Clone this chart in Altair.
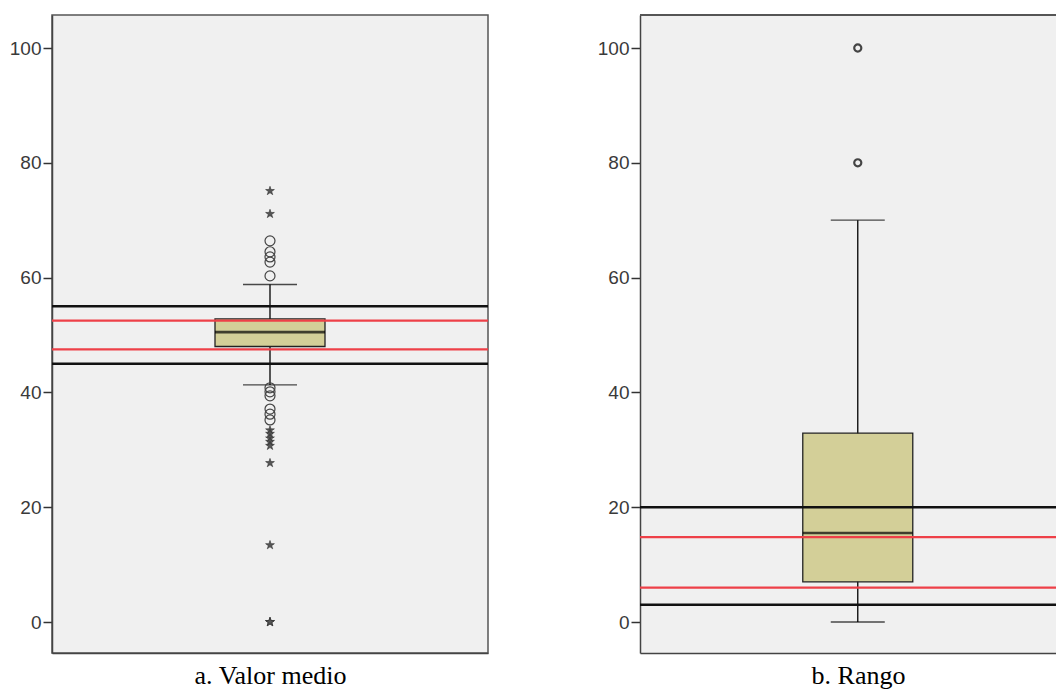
import altair as alt
import pandas as pd

# ---------------- data ----------------
panel_titles = ["a. Valor medio", "b. Rango"]
whisker_low = [41.3, 0.0]
box_q1 = [48.0, 7.0]
box_median = [50.5, 15.5]
box_q3 = [52.8, 32.9]
whisker_high = [58.8, 70.0]

black_lines_a = [55.0, 45.0]
red_lines_a = [52.5, 47.5]
black_lines_b = [20.0, 3.0]
red_lines_b = [14.8, 6.0]

circles_a = [66.4, 64.5, 63.6, 62.7, 60.3, 40.8, 40.1, 39.4, 37.1, 36.2, 35.2]
stars_a = [75.1, 71.1, 33.4, 32.8, 32.0, 31.4, 30.7, 27.7, 13.4, 0.0, 0.0, 0.0]
circles_b = [100.0, 80.0]
stars_b = []

y_ticks = [0, 20, 40, 60, 80, 100]

# ---------------- styling ----------------
Y_DOMAIN = [-5.4, 105.75]
H = 638
W_A = 436
W_B = 417
FULL_W = 436
BOX_FILL = "#d3cf98"
PANEL_BG = "#f0f0f0"
RED = "#ee4048"
STAR = ("M0,-1L0.2245,-0.309L0.951,-0.309L0.363,0.118L0.588,0.809L0,0.382"
        "L-0.588,0.809L-0.363,0.118L-0.951,-0.309L-0.2245,-0.309Z")


def make_panel(i, width, blacks, reds, circles, stars, circle_size, circle_sw, frame):
    xmax = 2.0 * width / FULL_W
    xs = alt.Scale(domain=[0, xmax], nice=False, zero=False)
    ys = alt.Scale(domain=Y_DOMAIN, nice=False, zero=False)
    x_axis = alt.Axis(
        title=panel_titles[i], labels=False, ticks=False, grid=False,
        domainColor="#444", domainWidth=1.5,
        titleFont="Liberation Serif", titleFontSize=26, titleFontWeight="normal",
        titleColor="#000", titlePadding=9, titleX=FULL_W / 2,
    )
    y_axis = alt.Axis(
        title=None, values=y_ticks, tickSize=9, labelPadding=2,
        labelFont="Liberation Sans", labelFontSize=19, labelColor="#3a3a3a",
        tickColor="#333", tickWidth=1.5, domainColor="#444", domainWidth=1.5,
        grid=False,
    )

    stats = pd.DataFrame({
        "x": [1.0],
        "low": [whisker_low[i]], "q1": [box_q1[i]], "median": [box_median[i]],
        "q3": [box_q3[i]], "high": [whisker_high[i]],
    })
    base = alt.Chart(stats)

    whisk = base.mark_rule(color="#000", strokeWidth=1.3).encode(
        x=alt.X("x:Q", scale=xs, axis=x_axis),
        y=alt.Y("low:Q", scale=ys, axis=y_axis),
        y2="high:Q",
    )
    caps_lo = base.mark_tick(orient="horizontal", size=54, thickness=1.3, color="#000").encode(
        x=alt.X("x:Q", scale=xs), y=alt.Y("low:Q", scale=ys))
    caps_hi = base.mark_tick(orient="horizontal", size=54, thickness=1.3, color="#000").encode(
        x=alt.X("x:Q", scale=xs), y=alt.Y("high:Q", scale=ys))
    box = base.mark_bar(size=110, fill=BOX_FILL, stroke="#222", strokeWidth=1.3).encode(
        x=alt.X("x:Q", scale=xs), y=alt.Y("q1:Q", scale=ys), y2="q3:Q")
    med = base.mark_tick(orient="horizontal", size=110, thickness=2.6, color="#000").encode(
        x=alt.X("x:Q", scale=xs), y=alt.Y("median:Q", scale=ys))

    blk = alt.Chart(pd.DataFrame({"v": blacks})).mark_rule(
        color="#111", strokeWidth=2.5).encode(y=alt.Y("v:Q", scale=ys))
    rd = alt.Chart(pd.DataFrame({"v": reds})).mark_rule(
        color=RED, strokeWidth=2.2).encode(y=alt.Y("v:Q", scale=ys))

    layers = [whisk, caps_lo, caps_hi, box, med, blk, rd]

    if circles:
        layers.append(
            alt.Chart(pd.DataFrame({"x": [1.0] * len(circles), "v": circles}))
            .mark_point(shape="circle", filled=False, size=circle_size,
                        stroke="#444", strokeWidth=circle_sw, opacity=1)
            .encode(x=alt.X("x:Q", scale=xs), y=alt.Y("v:Q", scale=ys))
        )
    if stars:
        layers.append(
            alt.Chart(pd.DataFrame({"x": [1.0] * len(stars), "v": stars}))
            .mark_point(shape=STAR, filled=True, size=85, fill="#555",
                        stroke="#333", strokeWidth=0.6, opacity=1)
            .encode(x=alt.X("x:Q", scale=xs), y=alt.Y("v:Q", scale=ys))
        )
    if not frame:
        layers.append(
            alt.Chart(pd.DataFrame({"v": [0]})).mark_rule(color="#555", strokeWidth=2)
            .encode(x=alt.value(0), x2=alt.value(width), y=alt.value(0))
        )

    view = (alt.ViewBackground(fill=PANEL_BG, stroke="#555", strokeWidth=1.5)
            if frame else alt.ViewBackground(fill=PANEL_BG, stroke="transparent"))
    return alt.layer(*layers).properties(width=width, height=H, view=view)


panel_a = make_panel(0, W_A, black_lines_a, red_lines_a, circles_a, stars_a, 100, 1.2, True)
panel_b = make_panel(1, W_B, black_lines_b, red_lines_b, circles_b, stars_b, 50, 2.2, False)

LEFT, TOP = 44, 7
chart = (
    alt.hconcat(panel_a, panel_b, spacing=106)
    .properties(
        autosize=alt.AutoSizeParams(type="none"),
        padding={"left": LEFT, "top": TOP, "right": 1048 - LEFT, "bottom": 680 - TOP},
        background="white",
    )
)

chart.save("out.html", embed_options={"renderer": "svg", "actions": False})
